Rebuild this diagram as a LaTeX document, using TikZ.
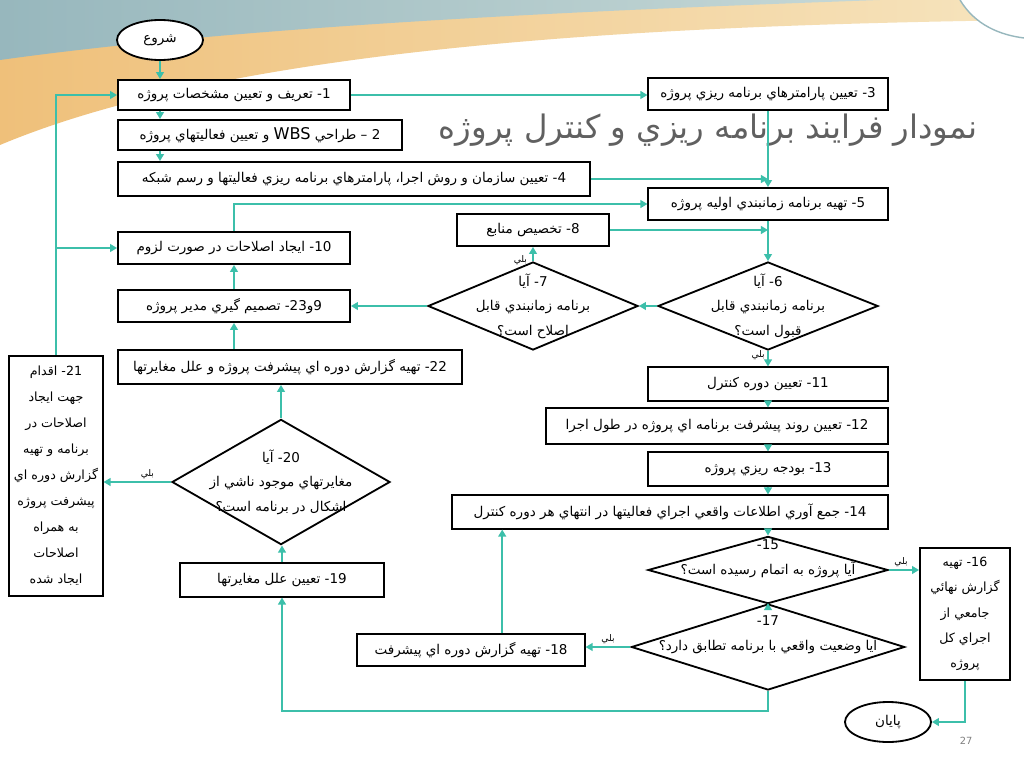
\documentclass[tikz,border=0pt]{standalone}
\usepackage{fontspec}
\setmainfont{DejaVu Sans}
\newfontfamily\fafont[Script=Arabic]{DejaVu Sans}
\TeXXeTstate=1
\usepackage{tikz}
\usetikzlibrary{shapes.geometric,arrows.meta,positioning,calc}
\definecolor{flow}{HTML}{3CBFAA}
\definecolor{titlegray}{HTML}{606060}
\definecolor{skyband}{HTML}{97B7BD}
\definecolor{skylight}{HTML}{C6D8D6}
\definecolor{sandband}{HTML}{EFC07A}
\definecolor{sandlight}{HTML}{F6E4BE}
\newcommand{\fa}[1]{\beginR #1\endR}

\begin{document}
\begin{tikzpicture}[x=0.025cm,y=-0.025cm,
    box/.style={rectangle, draw=black, line width=1.3pt, fill=white, inner sep=2pt,
                font=\fafont\fontsize{9.6}{17}\selectfont, align=center},
    ask/.style={diamond, draw=black, line width=1.3pt, fill=white, inner sep=0pt},
    asktext/.style={inner sep=0pt, align=center, font=\fafont\fontsize{9.6}{17.5}\selectfont},
    term/.style={ellipse, draw=black, line width=1.3pt, fill=white, minimum width=2.15cm,
                 minimum height=1cm, font=\fafont\fontsize{9.6}{11}\selectfont},
    flowline/.style={draw=flow, line width=1.6pt, -{Triangle[length=5pt,width=5.5pt]}},
    yes/.style={font=\fafont\fontsize{6.5}{7}\selectfont, inner sep=1.5pt},
]
\useasboundingbox (0,0) rectangle (1024,768);
\fill[white] (0,0) rectangle (1024,768);
\shade[left color=sandband, right color=sandlight] (0,0) -- (1024,0) -- (1024,20)
    .. controls (700,25) and (250,40) .. (0,145) -- cycle;
\shade[left color=skyband, right color=skylight] (0,0) -- (880,0)
    .. controls (600,10) and (250,25) .. (0,60) -- cycle;
\draw[white, line width=2pt] (0,150) .. controls (300,60) and (650,40) .. (1024,30);
\fill[white] (960,0) .. controls (975,25) and (1000,35) .. (1024,38) -- (1024,0) -- cycle;
\draw[skyband, line width=1pt] (960,0) .. controls (975,25) and (1000,35) .. (1024,38);

\node[text=titlegray, font=\fafont\fontsize{23}{26}\selectfont] (title) at (708,130)
    {\fa{نمودار فرايند برنامه ريزي و کنترل پروژه}};

\node[term] (start) at (160,40) {\fa{شروع}};
\node[box, minimum width=5.8cm, minimum height=0.75cm] (define) at (234,95) {\fa{1- تعريف و تعيين مشخصات پروژه}};
\node[box, minimum width=7.1cm, minimum height=0.75cm] (wbs) at (260,135)
    {\fa{2 – طراحي {\rmfamily\fontsize{11.5}{11}\selectfont WBS} و تعيين فعاليتهاي پروژه}};
\node[box, minimum width=11.8cm, minimum height=0.85cm] (org) at (354,179)
    {\fa{4- تعيين سازمان و روش اجرا، پارامترهاي برنامه ريزي فعاليتها و رسم شبکه}};
\node[box, minimum width=5.98cm, minimum height=0.8cm] (params) at (768,94) {\fa{3- تعيين پارامترهاي برنامه ريزي پروژه}};
\node[box, minimum width=5.98cm, minimum height=0.8cm] (sched) at (768,204) {\fa{5- تهيه برنامه زمانبندي اوليه پروژه}};
\node[box, minimum width=3.8cm, minimum height=0.8cm] (alloc) at (533,230) {\fa{8- تخصيص منابع}};
\node[box, minimum width=5.8cm, minimum height=0.8cm] (fix) at (234,248) {\fa{10- ايجاد اصلاحات در صورت لزوم}};
\node[box, minimum width=5.8cm, minimum height=0.8cm] (decide) at (234,306) {\fa{9و23- تصميم گيري مدير پروژه}};
\node[box, minimum width=8.6cm, minimum height=0.85cm] (report) at (290,367)
    {\fa{22- تهيه گزارش دوره اي پيشرفت پروژه و علل مغايرتها}};
\node[box, minimum width=2.33cm, minimum height=6cm, font=\fafont\fontsize{9}{18.5}\selectfont] (act) at (56,476)
    {\fa{21- اقدام}\\\fa{جهت ايجاد}\\\fa{اصلاحات در}\\\fa{برنامه و تهيه}\\\fa{گزارش دوره اي}\\
     \fa{پيشرفت پروژه}\\\fa{به همراه}\\\fa{اصلاحات}\\\fa{ايجاد شده}};
\node[box, minimum width=5.1cm, minimum height=0.83cm] (causes) at (282,580) {\fa{19- تعيين علل مغايرتها}};

\node[ask, minimum width=5.5cm, minimum height=2.2cm] (accept) at (768,306) {};
\node[asktext] (accepttext) at (accept) {\fa{6- آيا}\\\fa{برنامه زمانبندي قابل}\\\fa{قبول است؟}};
\node[ask, minimum width=5.25cm, minimum height=2.2cm] (fixable) at (533,306) {};
\node[asktext] (fixabletext) at (fixable) {\fa{7- آيا}\\\fa{برنامه زمانبندي قابل}\\\fa{اصلاح است؟}};
\node[ask, minimum width=5.45cm, minimum height=3.13cm] (deviation) at (281,482) {};
\node[asktext] (deviationtext) at (deviation) {\fa{20- آيا}\\\fa{مغايرتهاي موجود ناشي از}\\\fa{اشکال در برنامه است؟}};

\node[box, minimum width=6cm, minimum height=0.83cm] (period) at (768,384) {\fa{11- تعيين دوره کنترل}};
\node[box, minimum width=8.55cm, minimum height=0.88cm] (trend) at (717,426)
    {\fa{12- تعيين روند پيشرفت برنامه اي پروژه در طول اجرا}};
\node[box, minimum width=6cm, minimum height=0.83cm] (budget) at (768,469) {\fa{13- بودجه ريزي پروژه}};
\node[box, minimum width=10.9cm, minimum height=0.83cm] (collect) at (670,512)
    {\fa{14- جمع آوري اطلاعات واقعي اجراي فعاليتها در انتهاي هر دوره کنترل}};

\node[ask, minimum width=6cm, minimum height=1.68cm] (done) at (768,570) {};
\node[asktext] (donetext) at (768,559) {\fa{15-}\\\fa{آيا پروژه به اتمام رسيده است؟}};
\node[ask, minimum width=6.83cm, minimum height=2.15cm] (match) at (768,647) {};
\node[asktext] (matchtext) at (768,635) {\fa{17-}\\\fa{آيا وضعيت واقعي با برنامه تطابق دارد؟}};

\node[box, minimum width=2.25cm, minimum height=3.3cm, font=\fafont\fontsize{9}{18}\selectfont] (final) at (965,614)
    {\fa{16- تهيه}\\\fa{گزارش نهائي}\\\fa{جامعي از}\\\fa{اجراي کل}\\\fa{پروژه}};
\node[box, minimum width=5.68cm, minimum height=0.78cm] (progress) at (471,650) {\fa{18- تهيه گزارش دوره اي پيشرفت}};
\node[term] (stop) at (888,722) {\fa{پايان}};
\node[text=gray, font=\fontsize{7}{8}\selectfont] (pagenum) at (966,741) {27};

\draw[flowline] (start.south) -- (start.south |- define.north);
\draw[flowline] (define.south -| start.south) -- (wbs.north -| start.south);
\draw[flowline] (wbs.south -| start.south) -- (org.north -| start.south);
\draw[flowline] (define.east) -- (define.east -| params.west);
\draw[flowline] (params.south) -- (sched.north);
\draw[flowline] (org.east) -- (org.east -| params.south);
\draw[flowline] (sched.south) -- (accept.north);
\draw[flowline] (alloc.east) -- (alloc.east -| accept.north);
\draw[flowline] (accept.west) -- (fixable.east);
\draw[flowline] (fixable.west) -- (fixable.west -| decide.east);
\draw[flowline] (fixable.north) -- (alloc.south) node[yes, left, pos=0.1, xshift=-2pt] (yes7) {\fa{بلي}};
\draw[flowline] (decide.north) -- (fix.south);
\draw[flowline] (fix.north) |- (sched.west);
\draw[flowline] (report.north -| decide.south) -- (decide.south);
\draw[flowline] (act.north) |- (define.west);
\draw[flowline] (act.north |- fix.west) -- (fix.west);
\draw[flowline] (deviation.north) -- (deviation.north |- report.south);
\draw[flowline] (causes.north) -- (causes.north |- deviation.south);
\draw[flowline] (deviation.west) -- (deviation.west -| act.east) node[yes, above, pos=0.35] (yes20) {\fa{بلي}};
\draw[flowline] (accept.south) -- (period.north) node[yes, left, pos=0.3] (yes6) {\fa{بلي}};
\draw[flowline] (period.south) -- (period.south |- trend.north);
\draw[flowline] (budget.north |- trend.south) -- (budget.north);
\draw[flowline] (budget.south) -- (budget.south |- collect.north);
\draw[flowline] (collect.south -| done.north) -- (done.north);
\draw[flowline] (done.south) -- (match.north);
\draw[flowline] (done.east) -- (done.east -| final.west) node[yes, above, pos=0.4] (yes15) {\fa{بلي}};
\draw[flowline] (match.west) -- (match.west -| progress.east) node[yes, above, pos=0.5] (yes17) {\fa{بلي}};
\draw[flowline] ([xshift=0.78cm]progress.north) -- ([xshift=0.78cm]progress.north |- collect.south);
\draw[flowline] (match.south) -- ++(0,20) -| (causes.south);
\draw[flowline] (final.south) |- (stop.east);
\end{tikzpicture}
\end{document}
